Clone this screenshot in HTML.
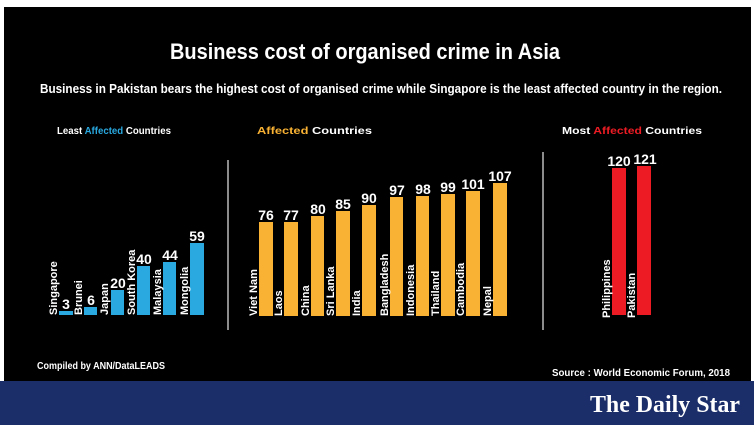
<!DOCTYPE html>
<html><head><meta charset="utf-8"><style>
html,body{margin:0;padding:0;background:#fff;width:754px;height:425px;overflow:hidden}
svg{display:block}
text{font-family:"Liberation Sans",sans-serif;font-weight:bold;fill:#fff}
</style></head><body>
<svg width="754" height="425" viewBox="0 0 754 425">
<rect x="0" y="0" width="754" height="425" fill="#fff"/>
<rect x="4" y="7" width="747" height="374" fill="#000"/>
<rect x="0" y="381" width="754" height="44" fill="#1b2e6a"/>
<text x="170" y="59" font-size="22" textLength="390" lengthAdjust="spacingAndGlyphs">Business cost of organised crime in Asia</text>
<text x="40" y="93" font-size="13" textLength="682" lengthAdjust="spacingAndGlyphs">Business in Pakistan bears the highest cost of organised crime while Singapore is the least affected country in the region.</text>
<text x="57" y="134" font-size="10.5" textLength="114" lengthAdjust="spacingAndGlyphs">Least <tspan fill="#29a9e0">Affected</tspan> Countries</text>
<text x="257" y="134" font-size="10.5" textLength="115" lengthAdjust="spacingAndGlyphs"><tspan fill="#f9b233">Affected</tspan> Countries</text>
<text x="562" y="134" font-size="10.5" textLength="140" lengthAdjust="spacingAndGlyphs">Most <tspan fill="#ed1c24">Affected</tspan> Countries</text>
<line x1="228" y1="160" x2="228" y2="330" stroke="#bbb" stroke-width="1.5"/>
<line x1="543" y1="152" x2="543" y2="330" stroke="#bbb" stroke-width="1.5"/>
<g fill="#29a9e0">
<rect x="59" y="311" width="14" height="4"/>
<rect x="84" y="307" width="13" height="8"/>
<rect x="111" y="290" width="13" height="25"/>
<rect x="137" y="266" width="13" height="49"/>
<rect x="163" y="262" width="13" height="53"/>
<rect x="190" y="243" width="14" height="72"/>
</g>
<g fill="#f9b233">
<rect x="259" y="222" width="14" height="94"/>
<rect x="284" y="222" width="14" height="94"/>
<rect x="311" y="216" width="13" height="100"/>
<rect x="336" y="211" width="14" height="105"/>
<rect x="362" y="205" width="14" height="111"/>
<rect x="390" y="197" width="13" height="119"/>
<rect x="416" y="196" width="13" height="120"/>
<rect x="441" y="194" width="14" height="122"/>
<rect x="466" y="191" width="14" height="125"/>
<rect x="493" y="183" width="14" height="133"/>
</g>
<g fill="#ed1c24">
<rect x="612" y="168" width="14" height="147"/>
<rect x="637" y="166" width="14" height="149"/>
</g>
<g font-size="14" text-anchor="middle">
<text x="66" y="309">3</text><text x="91" y="305">6</text><text x="118" y="288">20</text>
<text x="144" y="264">40</text><text x="170" y="260">44</text><text x="197" y="241">59</text>
<text x="266" y="220">76</text><text x="291" y="220">77</text><text x="318" y="214">80</text>
<text x="343" y="209">85</text><text x="369" y="203">90</text><text x="397" y="195">97</text>
<text x="423" y="194">98</text><text x="448" y="192">99</text><text x="473" y="189">101</text>
<text x="500" y="181">107</text>
<text x="619" y="166">120</text><text x="645" y="164">121</text>
</g>
<g font-size="11">
<text transform="translate(57,315) rotate(-90)">Singapore</text>
<text transform="translate(82,315) rotate(-90)">Brunei</text>
<text transform="translate(108,315) rotate(-90)">Japan</text>
<text transform="translate(135,315) rotate(-90)">South Korea</text>
<text transform="translate(161,315) rotate(-90)">Malaysia</text>
<text transform="translate(188,315) rotate(-90)">Mongolia</text>
<text transform="translate(257,316) rotate(-90)">Viet Nam</text>
<text transform="translate(282,316) rotate(-90)">Laos</text>
<text transform="translate(309,316) rotate(-90)">China</text>
<text transform="translate(334,316) rotate(-90)">Sri Lanka</text>
<text transform="translate(360,316) rotate(-90)">India</text>
<text transform="translate(388,316) rotate(-90)">Bangladesh</text>
<text transform="translate(414,316) rotate(-90)">Indonesia</text>
<text transform="translate(439,316) rotate(-90)">Thailand</text>
<text transform="translate(464,316) rotate(-90)">Cambodia</text>
<text transform="translate(491,316) rotate(-90)">Nepal</text>
<text transform="translate(610,318) rotate(-90)">Philippines</text>
<text transform="translate(635,318) rotate(-90)">Pakistan</text>
</g>
<text x="37" y="369" font-size="10.5" textLength="128" lengthAdjust="spacingAndGlyphs">Compiled by ANN/DataLEADS</text>
<text x="552" y="376" font-size="10.5" textLength="178" lengthAdjust="spacingAndGlyphs">Source : World Economic Forum, 2018</text>
<text x="590" y="412" font-size="24" textLength="150" lengthAdjust="spacingAndGlyphs" style="font-family:'Liberation Serif',serif">The Daily Star</text>
</svg>
</body></html>
